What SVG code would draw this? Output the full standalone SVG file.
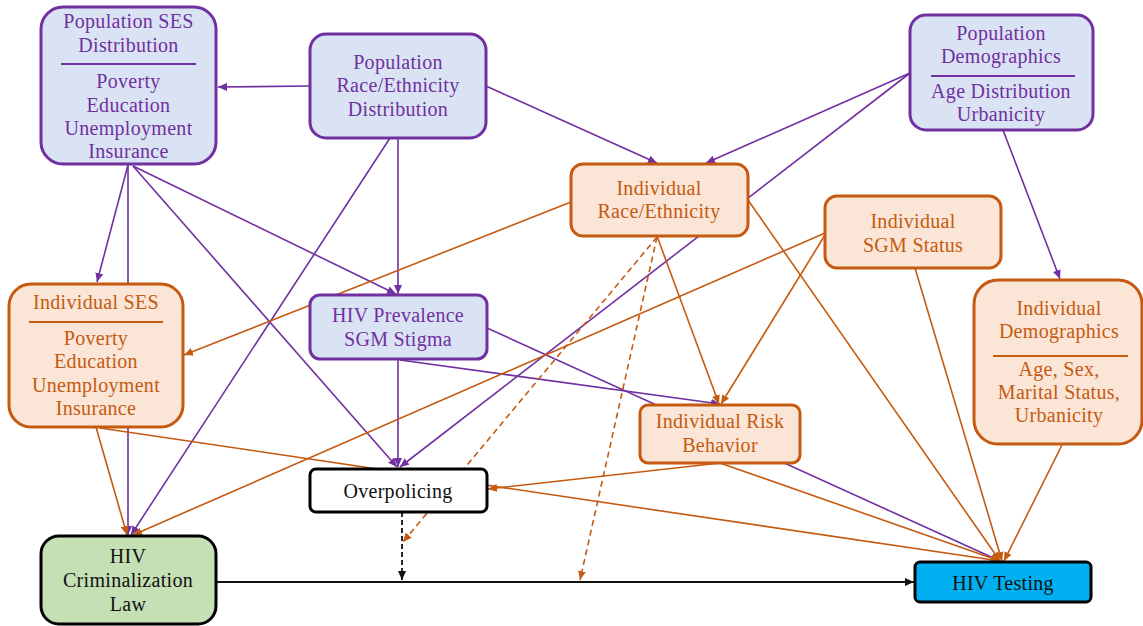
<svg xmlns="http://www.w3.org/2000/svg" width="1143" height="626" viewBox="0 0 1143 626">
<style>
text{font-family:"Liberation Serif","DejaVu Serif",serif;font-size:20px;text-anchor:middle;letter-spacing:0.3px}
.tp{fill:#7030A0}.to{fill:#C55A11}.tk{fill:#111}
.np{fill:#DAE3F3;stroke:#7030A0;stroke-width:3}
.no{fill:#FBE5D6;stroke:#C55A11;stroke-width:3}
.sp{stroke:#7030A0;stroke-width:2}.so{stroke:#C55A11;stroke-width:2}
.cp{stroke:#7030A0;stroke-width:1.6;fill:none;marker-end:url(#ap)}
.co{stroke:#C55A11;stroke-width:1.6;fill:none;marker-end:url(#ao)}
.cod{stroke:#C55A11;stroke-width:1.6;fill:none;stroke-dasharray:6 4;marker-end:url(#ao)}
.ck{stroke:#111;stroke-width:1.8;fill:none;marker-end:url(#ak)}
.ckd{stroke:#111;stroke-width:1.8;fill:none;stroke-dasharray:5 3;marker-end:url(#ak)}
</style>
<defs>
<marker id="ap" markerUnits="userSpaceOnUse" markerWidth="9" markerHeight="8" refX="9" refY="4" orient="auto"><path d="M0,0 L9,4 L0,8 z" fill="#7030A0"/></marker>
<marker id="ao" markerUnits="userSpaceOnUse" markerWidth="9" markerHeight="8" refX="9" refY="4" orient="auto"><path d="M0,0 L9,4 L0,8 z" fill="#C55A11"/></marker>
<marker id="ak" markerUnits="userSpaceOnUse" markerWidth="9" markerHeight="8" refX="9" refY="4" orient="auto"><path d="M0,0 L9,4 L0,8 z" fill="#111"/></marker>
</defs>
<rect width="1143" height="626" fill="#fff"/>
<g id="connectors">
<line class="cp" x1="310" y1="86" x2="218" y2="87"/>
<line class="cp" x1="486" y1="86" x2="657" y2="163"/>
<line class="cp" x1="398" y1="138" x2="398" y2="294"/>
<line class="cp" x1="390" y1="138" x2="131" y2="535"/>
<line class="cp" x1="128" y1="165" x2="97" y2="282"/>
<line class="cp" x1="128" y1="165" x2="128" y2="535"/>
<line class="cp" x1="133" y1="166" x2="396" y2="294"/>
<line class="cp" x1="133" y1="166" x2="397" y2="467"/>
<line class="cp" x1="910" y1="73" x2="706" y2="163"/>
<line class="cp" x1="910" y1="73" x2="400" y2="467"/>
<line class="cp" x1="1003" y1="130" x2="1060" y2="279"/>
<line class="cp" x1="398" y1="360" x2="398" y2="467"/>
<line class="cp" x1="487" y1="328" x2="1000" y2="561"/>
<line class="cp" x1="400" y1="360" x2="720" y2="404"/>
<line class="co" x1="571" y1="202" x2="184" y2="355"/>
<line class="co" x1="657" y1="236" x2="719" y2="404"/>
<line class="cod" x1="657" y1="237" x2="403" y2="542"/>
<line class="cod" x1="657" y1="237" x2="580" y2="580"/>
<line class="co" x1="748" y1="200" x2="1000" y2="561"/>
<line class="co" x1="825" y1="233" x2="133" y2="535"/>
<line class="co" x1="825" y1="235" x2="721" y2="404"/>
<line class="co" x1="915" y1="268" x2="1002" y2="561"/>
<line class="co" x1="1062" y1="445" x2="1004" y2="561"/>
<line class="co" x1="96" y1="427" x2="127" y2="535"/>
<line class="co" x1="100" y1="428" x2="1000" y2="561"/>
<line class="co" x1="720" y1="463" x2="488" y2="489"/>
<line class="co" x1="720" y1="463" x2="1000" y2="561"/>
<line class="ck" x1="217" y1="582" x2="914" y2="582"/>
<line class="ckd" x1="402" y1="512" x2="402" y2="580"/>
</g>
<g id="popSES">
<rect class="np" x="41" y="7" width="175" height="157" rx="22"/>
<text class="tp" x="128.5" y="28">Population SES</text>
<text class="tp" x="128.5" y="52">Distribution</text>
<line class="sp" x1="61" y1="64" x2="196" y2="64"/>
<text class="tp" x="128.5" y="88">Poverty</text>
<text class="tp" x="128.5" y="112">Education</text>
<text class="tp" x="128.5" y="135">Unemployment</text>
<text class="tp" x="128.5" y="158">Insurance</text>
</g>
<g id="popRace">
<rect class="np" x="310" y="34" width="176" height="104" rx="16"/>
<text class="tp" x="398" y="69">Population</text>
<text class="tp" x="398" y="92">Race/Ethnicity</text>
<text class="tp" x="398" y="116">Distribution</text>
</g>
<g id="popDemo">
<rect class="np" x="910" y="15" width="183" height="115" rx="16"/>
<text class="tp" x="1001" y="40">Population</text>
<text class="tp" x="1001" y="63">Demographics</text>
<line class="sp" x1="931" y1="76" x2="1075" y2="76"/>
<text class="tp" x="1001" y="98">Age Distribution</text>
<text class="tp" x="1001" y="121">Urbanicity</text>
</g>
<g id="indRace">
<rect class="no" x="571" y="164" width="177" height="72" rx="12"/>
<text class="to" x="659" y="195">Individual</text>
<text class="to" x="659" y="218">Race/Ethnicity</text>
</g>
<g id="indSGM">
<rect class="no" x="825" y="196" width="176" height="72" rx="12"/>
<text class="to" x="913" y="228">Individual</text>
<text class="to" x="913" y="252">SGM Status</text>
</g>
<g id="indSES">
<rect class="no" x="9" y="284" width="174" height="143" rx="22"/>
<text class="to" x="96" y="309">Individual SES</text>
<line class="so" x1="29" y1="322" x2="163" y2="322"/>
<text class="to" x="96" y="345">Poverty</text>
<text class="to" x="96" y="368">Education</text>
<text class="to" x="96" y="392">Unemployment</text>
<text class="to" x="96" y="415">Insurance</text>
</g>
<g id="hivPrev">
<rect class="np" x="310" y="295" width="177" height="64" rx="10"/>
<text class="tp" x="398" y="322">HIV Prevalence</text>
<text class="tp" x="398" y="346">SGM Stigma</text>
</g>
<g id="indRisk">
<rect class="no" x="640" y="405" width="160" height="58" rx="8"/>
<text class="to" x="720" y="428">Individual Risk</text>
<text class="to" x="720" y="452">Behavior</text>
</g>
<g id="indDemo">
<rect class="no" x="974" y="280" width="168" height="164" rx="24"/>
<text class="to" x="1059" y="315">Individual</text>
<text class="to" x="1059" y="338">Demographics</text>
<line class="so" x1="993" y1="356" x2="1128" y2="356"/>
<text class="to" x="1059" y="376">Age, Sex,</text>
<text class="to" x="1059" y="399">Marital Status,</text>
<text class="to" x="1059" y="422">Urbanicity</text>
</g>
<g id="overpolicing">
<rect x="310" y="469" width="177" height="43" rx="6" fill="#fff" stroke="#000" stroke-width="3"/>
<text class="tk" x="398" y="498">Overpolicing</text>
</g>
<g id="hivCrim">
<rect x="41" y="536" width="175" height="88" rx="18" fill="#C5E0B4" stroke="#000" stroke-width="3"/>
<text class="tk" x="128" y="563">HIV</text>
<text class="tk" x="128" y="587">Criminalization</text>
<text class="tk" x="128" y="611">Law</text>
</g>
<g id="hivTesting">
<rect x="915" y="562" width="176" height="40" rx="5" fill="#00B0F0" stroke="#000" stroke-width="3"/>
<text class="tk" x="1003" y="590">HIV Testing</text>
</g>
</svg>
